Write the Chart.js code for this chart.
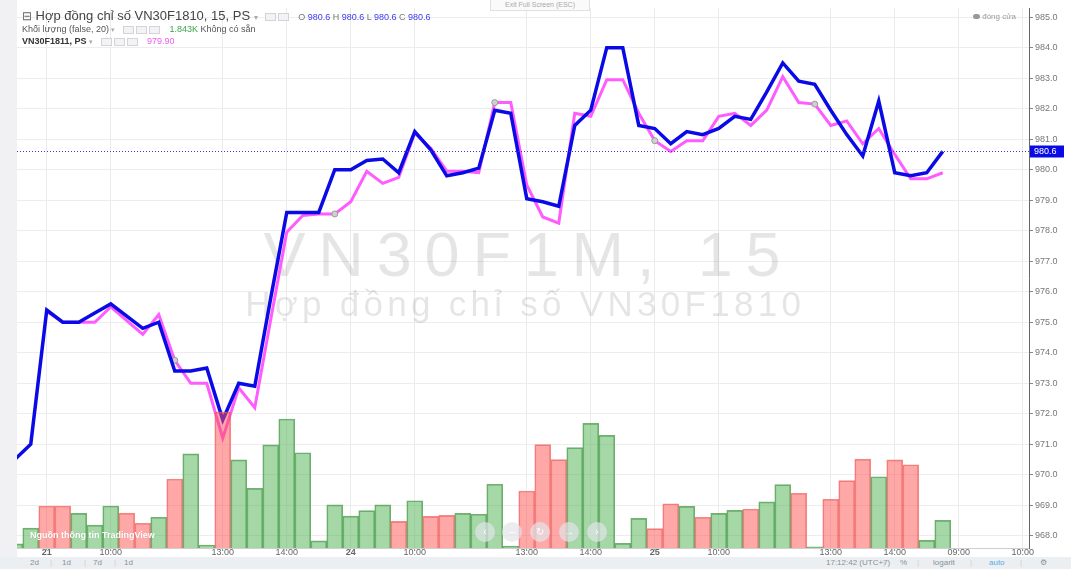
<!DOCTYPE html>
<html>
<head>
<meta charset="utf-8">
<script src="https://cdn.jsdelivr.net/npm/chart.js@4.4.1/dist/chart.umd.min.js"></script>
<style>
  html, body { margin: 0; padding: 0; background: #fff; }
  body { width: 1071px; height: 569px; position: relative; overflow: hidden; font-family: Arial, "Liberation Sans", sans-serif; }
  #leftStrip { position: absolute; left: 0; top: 0; width: 17px; height: 557px; background: #f1f1f4; }
  #wrap { position: absolute; left: 0; top: 0; width: 1071px; height: 569px; }
  .legend { position: absolute; left: 22px; color: #555; white-space: nowrap; }
  .ico { display: inline-block; width: 9px; height: 6px; border: 1px solid #d4d4d8; background: #f3f3f5; margin-right: 2px; vertical-align: middle; }
  .blue { color: #3a3af0; }
  #toolbar { position: absolute; left: 0; top: 557px; width: 1071px; height: 12px; background: #eceff2; font-size: 8px; color: #8a8f96; }
  #toolbar span { position: absolute; top: 1px; }
  .nav { position: absolute; top: 522px; width: 20px; height: 20px; border-radius: 10px; background: rgba(225,228,232,0.7); color: #fff; font-size: 10px; text-align: center; line-height: 20px; }
</style>
</head>
<body>
<div id="leftStrip"></div>
<div id="wrap"><canvas id="c" width="1071" height="569"></canvas></div>

<div class="legend" style="top:8px;font-size:13px;color:#444;">
  <span style="font-size:12px;color:#666;">⊟</span> Hợp đồng chỉ số VN30F1810, 15, PS <span style="font-size:8px;color:#aaa;">▾</span>
  &nbsp;<span class="ico"></span><span class="ico"></span>&nbsp;
  <span style="font-size:9px;color:#777;">O <span class="blue">980.6</span> H <span class="blue">980.6</span> L <span class="blue">980.6</span> C <span class="blue">980.6</span></span>
</div>
<div class="legend" style="top:24px;font-size:9px;">
  Khối lượng (false, 20) <span style="font-size:7px;color:#aaa;">▾</span>
  &nbsp;&nbsp;<span class="ico"></span><span class="ico"></span><span class="ico"></span>&nbsp;&nbsp;
  <span style="color:#3fa34d;">1.843K</span> Không có sẵn
</div>
<div class="legend" style="top:36px;font-size:9px;">
  <b style="color:#333;">VN30F1811, PS</b> <span style="font-size:7px;color:#aaa;">▾</span>
  &nbsp;&nbsp;<span class="ico"></span><span class="ico"></span><span class="ico"></span>&nbsp;&nbsp;
  <span style="color:#f05cf0;">979.90</span>
</div>
<div style="position:absolute;left:490px;top:0;width:98px;height:10px;border:1px solid #e0e0e0;border-top:none;background:#fafafa;font-size:7px;color:#aaa;text-align:center;line-height:10px;">Exit Full Screen (ESC)</div>
<div style="position:absolute;left:973px;top:12px;font-size:8px;color:#999;"><span style="display:inline-block;width:7px;height:5px;border-radius:3px;background:#999;vertical-align:middle;"></span> đóng cửa</div>

<div style="position:absolute;left:30px;top:530px;font-size:9px;font-weight:bold;color:#fff;text-shadow:0 0 1px rgba(0,0,0,0.15);">Nguồn thông tin TradingView</div>
<div class="nav" style="left:475px;">‹</div>
<div class="nav" style="left:502px;">–</div>
<div class="nav" style="left:530px;">↻</div>
<div class="nav" style="left:559px;">→</div>
<div class="nav" style="left:587px;">›</div>

<div id="toolbar">
  <span style="left:30px;">2d</span><span style="left:50px;color:#ccc;">|</span>
  <span style="left:62px;">1d</span><span style="left:84px;color:#ccc;">|</span>
  <span style="left:93px;">7d</span><span style="left:114px;color:#ccc;">|</span>
  <span style="left:124px;">1d</span>
  <span style="left:826px;">17:12:42 (UTC+7)</span><span style="left:883px;color:#ccc;">|</span>
  <span style="left:900px;">%</span><span style="left:917px;color:#ccc;">|</span>
  <span style="left:933px;">logarit</span><span style="left:970px;color:#ccc;">|</span>
  <span style="left:989px;color:#5aa9e6;">auto</span><span style="left:1020px;color:#ccc;">|</span>
  <span style="left:1040px;">⚙</span>
</div>

<script>
// 15-minute bars, index 0 = 20/10 14:30 ... index 58 = 25/10 14:45
const priceF1810 = [970.5, 971.0, 975.4, 975.0, 975.0, 975.3, 975.6, 975.2, 974.8, 975.0,
  973.4, 973.4, 973.5, 971.8, 973.0, 972.9, 975.8, 978.6, 978.6, 978.6,
  980.0, 980.0, 980.3, 980.35, 979.9, 981.25, 980.65, 979.8, 979.9, 980.05,
  981.95, 981.85, 979.05, 978.95, 978.8, 981.45, 981.95, 984.0, 984.0, 981.45,
  981.35, 980.85, 981.25, 981.15, 981.35, 981.75, 981.65, 982.55, 983.5, 982.9,
  982.8, 981.95, 981.15, 980.45, 982.25, 979.9, 979.8, 979.9, 980.6];
const priceF1811 = [null, null, 975.35, 975.0, 975.0, 975.0, 975.5, 975.05, 974.6, 975.25,
  973.75, 973.0, 973.0, 971.2, 972.85, 972.2, 975.1, 977.95, 978.5, 978.55,
  978.55, 978.95, 979.95, 979.55, 979.75, 981.2, 980.7, 979.95, 979.95, 979.9,
  982.2, 982.2, 979.5, 978.45, 978.25, 981.85, 981.75, 982.95, 982.95, 981.85,
  980.95, 980.6, 980.95, 980.95, 981.75, 981.85, 981.45, 981.95, 983.05, 982.2,
  982.15, 981.45, 981.6, 980.85, 981.35, 980.5, 979.7, 979.7, 979.9];
// volume in thousands of contracts
const volumeK = [0.27, 1.33, 2.8, 2.8, 2.31, 1.53, 2.8, 2.33, 1.65, 2.05,
  4.6, 6.27, 0.2, 9.07, 5.87, 3.98, 6.87, 8.6, 6.35, 0.47,
  2.87, 2.13, 2.49, 2.87, 1.78, 3.15, 2.11, 2.18, 2.31, 2.25,
  4.25, 0.13, 3.8, 6.89, 5.89, 6.69, 8.31, 7.51, 0.31, 1.98,
  1.29, 2.95, 2.78, 2.05, 2.31, 2.51, 2.6, 3.07, 4.22, 3.65,
  0.07, 3.25, 4.49, 5.93, 4.75, 5.87, 5.55, 0.51, 1.843];
const volumeDir = ['up','up','down','down','up','up','up','down','down','up',
  'down','up','up','down','up','up','up','up','up','up',
  'up','up','up','up','down','up','down','down','up','up',
  'up','up','down','down','down','up','up','up','up','up',
  'down','down','up','down','up','up','down','up','up','down',
  'up','down','down','down','up','down','down','up','up'];
const markerIdx = [10, 20, 30, 40, 50];
const xTickIdx = [2, 6, 13, 17, 21, 25, 32, 36, 40, 44, 51, 55, 59, 63];
const xTickText = ['21', '10:00', '13:00', '14:00', '24', '10:00', '13:00', '14:00', '25', '10:00', '13:00', '14:00', '09:00', '10:00'];
const dayTicks = ['21', '24', '25'];
const priceTicks = [968, 969, 970, 971, 972, 973, 974, 975, 976, 977, 978, 979, 980, 981, 982, 983, 984, 985];
const lastPrice = 980.6;

const pts = arr => arr.map((v, i) => ({ x: i, y: v }));

// draw text centred at cx, stretched by letter spacing to a given width
function spacedText(ctx, txt, cx, cy, width) {
  ctx.letterSpacing = '0px';
  const w0 = ctx.measureText(txt).width;
  const sp = Math.max(0, (width - w0) / txt.length);
  ctx.letterSpacing = sp + 'px';
  ctx.textAlign = 'left';
  ctx.fillText(txt, cx - width / 2 + sp / 2, cy);
  ctx.letterSpacing = '0px';
}

const overlay = {
  id: 'overlay',
  beforeDatasetsDraw(chart) {
    const { ctx } = chart;
    ctx.save();
    ctx.fillStyle = 'rgba(0,0,0,0.1)';
    ctx.textBaseline = 'middle';
    ctx.font = '63px Arial, "Liberation Sans", sans-serif';
    spacedText(ctx, 'VN30F1M, 15', 522, 259, 530);
    ctx.font = '35px Arial, "Liberation Sans", sans-serif';
    spacedText(ctx, 'Hợp đồng chỉ số VN30F1810', 523, 306, 560);
    ctx.restore();
  },
  afterDatasetsDraw(chart) {
    const { ctx, chartArea, scales } = chart;
    const y = Math.round(scales.y.getPixelForValue(lastPrice)) + 0.5;
    ctx.save();
    ctx.strokeStyle = '#3b3bd9';
    ctx.lineWidth = 1;
    ctx.setLineDash([1, 2]);
    ctx.beginPath();
    ctx.moveTo(chartArea.left, y);
    ctx.lineTo(chartArea.right, y);
    ctx.stroke();
    ctx.setLineDash([]);
    ctx.fillStyle = '#0a0ae6';
    ctx.fillRect(chartArea.right + 1, y - 6, 34, 12);
    ctx.fillStyle = '#fff';
    ctx.font = '9px Arial, "Liberation Sans", sans-serif';
    ctx.textBaseline = 'middle';
    ctx.fillText(lastPrice.toFixed(1), chartArea.right + 5, y + 0.5);
    ctx.restore();
  }
};

new Chart(document.getElementById('c'), {
  type: 'bar',
  data: {
    datasets: [
      {
        type: 'bar', data: pts(volumeK), yAxisID: 'v', order: 0,
        backgroundColor: volumeDir.map(d => d === 'up' ? 'rgba(76,175,80,0.5)' : 'rgba(255,82,82,0.5)'),
        borderColor: volumeDir.map(d => d === 'up' ? 'rgba(70,150,72,0.75)' : 'rgba(235,90,90,0.7)'),
        borderWidth: 1, barPercentage: 1, categoryPercentage: 1
      },
      {
        type: 'line', data: pts(priceF1810), yAxisID: 'y', order: 1,
        borderColor: '#0a0ae6', borderWidth: 3.5, pointRadius: 0, tension: 0
      },
      {
        type: 'line', data: pts(priceF1811), yAxisID: 'y', order: 2,
        borderColor: '#ff5cff', borderWidth: 3, tension: 0,
        pointRadius: c => markerIdx.includes(c.dataIndex) ? 3 : 0,
        pointBackgroundColor: '#d0d0d0', pointBorderColor: '#9a9a9a', pointBorderWidth: 1
      }
    ]
  },
  options: {
    responsive: false, animation: false,
    layout: { padding: { left: 17, top: 8, right: 0, bottom: 0 } },
    plugins: { legend: { display: false }, tooltip: { enabled: false } },
    scales: {
      x: {
        type: 'linear', min: 0.14, max: 63.39, offset: false,
        afterBuildTicks: s => { s.ticks = xTickIdx.map(v => ({ value: v })); },
        afterFit: s => { s.height = 21; },
        grid: { color: '#ebebeb', tickLength: 2, tickColor: '#999', offset: false },
        border: { color: '#cfcfcf' },
        ticks: {
          autoSkip: false, maxRotation: 0, padding: -3, color: '#666',
          font: c => ({ size: 9, family: 'Arial, "Liberation Sans", sans-serif', weight: dayTicks.includes(xTickText[c.index]) ? 'bold' : 'normal' }),
          callback: (v, i) => xTickText[i]
        }
      },
      y: {
        position: 'right', min: 967.6, max: 985.3,
        afterBuildTicks: s => { s.ticks = priceTicks.map(v => ({ value: v })); },
        afterFit: s => { s.width = 42; },
        grid: { color: '#ededed', tickLength: 4, tickColor: '#888' },
        border: { color: '#666' },
        ticks: { color: '#777', padding: 2, font: { size: 9, family: 'Arial, "Liberation Sans", sans-serif' }, callback: v => v.toFixed(1) }
      },
      v: { display: false, min: 0, max: 36 }
    }
  },
  plugins: [overlay]
});
</script>
</body>
</html>
